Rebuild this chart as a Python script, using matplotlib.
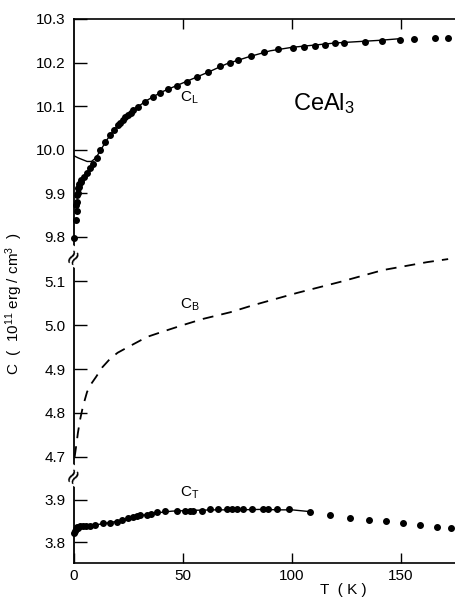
import matplotlib
matplotlib.use('Agg')
import matplotlib.pyplot as plt

plt.rcParams['font.family'] = ['Liberation Sans', 'DejaVu Sans']
plt.rcParams['mathtext.fontset'] = 'custom'
plt.rcParams['mathtext.rm'] = 'Liberation Sans'
plt.rcParams['mathtext.it'] = 'Liberation Sans:italic'

# C_L : punti misurati e curva
T_L = [0.2, 0.8, 0.9, 1.2, 1.4, 1.6, 1.8, 2.0, 2.2, 2.5, 3.0, 3.4, 4.5, 5.8, 7.3, 8.7,
       10.5, 11.9, 14.2, 16.5, 18.5, 20.2, 21.3, 22.5, 23.6, 24.8, 26.0, 27.0, 29.4,
       32.6, 36.2, 39.4, 43.1, 47.2, 51.8, 56.4, 61.5, 67.0, 71.6, 75.2, 81.2, 87.2,
       93.6, 100.5, 105.5, 110.6, 115.1, 119.7, 123.9, 133.5, 141.3, 149.5, 155.9,
       165.6, 171.6]
C_L = [9.797, 9.838, 9.872, 9.86, 9.88, 9.895, 9.90, 9.911, 9.915, 9.922, 9.925, 9.93,
       9.937, 9.946, 9.957, 9.967, 9.98, 9.999, 10.017, 10.033, 10.045, 10.056, 10.062,
       10.068, 10.074, 10.079, 10.085, 10.09, 10.098, 10.11, 10.12, 10.13, 10.139,
       10.146, 10.155, 10.167, 10.178, 10.192, 10.2, 10.206, 10.215, 10.224, 10.231,
       10.233, 10.236, 10.238, 10.24, 10.245, 10.245, 10.247, 10.25, 10.252, 10.254,
       10.256, 10.256]
T_L_fit = [0, 2, 4, 6, 8, 10, 12, 15, 18, 22, 27, 33, 40, 47, 55, 62, 70, 80, 90,
           100, 110, 120, 130, 140, 150]
C_L_fit = [9.986, 9.981, 9.977, 9.973, 9.973, 9.981, 9.997, 10.022, 10.043, 10.066,
           10.09, 10.112, 10.132, 10.147, 10.164, 10.179, 10.197, 10.213, 10.227,
           10.235, 10.240, 10.245, 10.248, 10.251, 10.255]

# C_B : curva tratteggiata
T_B = [0.3, 1.0, 1.8, 2.8, 4.1, 6.0, 8.0, 10.1, 13.0, 16.5, 20.0, 24.8, 33.5, 41.3,
       50.0, 59.2, 71.6, 82.1, 102.3, 122.0, 141.7, 161.9, 171.6]
C_B = [4.70, 4.725, 4.755, 4.785, 4.815, 4.848, 4.867, 4.882, 4.904, 4.923, 4.937,
       4.95, 4.973, 4.986, 5.0, 5.014, 5.029, 5.045, 5.073, 5.098, 5.125, 5.143, 5.15]

# C_T : punti misurati e curva
T_T = [0.2, 0.5, 1.0, 1.4, 2.0, 2.8, 4.0, 5.5, 7.5, 9.6, 13.3, 16.5, 19.7, 22.0, 24.8,
       27.0, 28.8, 30.3, 33.5, 35.5, 38.1, 41.7, 47.2, 50.9, 53.0, 54.6, 58.7, 62.4,
       66.1, 70.2, 72.5, 74.8, 77.5, 81.7, 86.7, 89.0, 93.1, 98.6, 108.3, 117.4, 126.6,
       135.3, 143.1, 150.9, 158.7, 166.5, 172.9]
C_T = [3.822, 3.826, 3.83, 3.835, 3.833, 3.837, 3.838, 3.837, 3.839, 3.84, 3.844, 3.846,
       3.847, 3.851, 3.858, 3.86, 3.862, 3.863, 3.865, 3.867, 3.87, 3.874, 3.874, 3.874,
       3.874, 3.874, 3.874, 3.879, 3.877, 3.877, 3.877, 3.877, 3.877, 3.877, 3.879,
       3.879, 3.877, 3.877, 3.872, 3.863, 3.856, 3.851, 3.849, 3.846, 3.84, 3.835, 3.833]
T_T_fit = [0, 3, 8, 15, 22, 30, 38, 45, 55, 65, 75, 85, 95, 100, 108]
C_T_fit = [3.83, 3.836, 3.839, 3.845, 3.851, 3.862, 3.869, 3.873, 3.875, 3.876, 3.876,
           3.877, 3.876, 3.876, 3.872]

ticks_top = [9.8, 9.9, 10.0, 10.1, 10.2, 10.3]
ticks_mid = [4.7, 4.8, 4.9, 5.0, 5.1]
ticks_bot = [3.8, 3.9]
ticks_x = [0, 50, 100, 150]

fig = plt.figure(figsize=(4.56, 6.0), dpi=100)
W, H = 456.0, 600.0
left = 74 / W

def box(y0, y1):
    return [left, 1 - y1 / H, 1 - left, (y1 - y0) / H]

ax1 = fig.add_axes(box(19, 256))
ax2 = fig.add_axes(box(256, 475))
ax3 = fig.add_axes(box(475, 563))

ax1.set_ylim(9.756, 10.3)
ax2.set_ylim(4.659, 5.157)
ax3.set_ylim(3.751, 3.958)

for ax in (ax1, ax2, ax3):
    ax.set_xlim(0, 175.2)
    ax.spines['right'].set_visible(False)
    ax.tick_params(direction='in', length=9, width=1, labelsize=11, pad=6)
    ax.spines['left'].set_linewidth(1.3)

ax1.spines['bottom'].set_visible(False)
ax2.spines['top'].set_visible(False)
ax2.spines['bottom'].set_visible(False)
ax3.spines['top'].set_visible(False)
ax1.spines['top'].set_linewidth(1.2)
ax3.spines['bottom'].set_linewidth(1.2)

ax1.set_yticks(ticks_top)
ax1.set_yticklabels(['9.8', '9.9', '10.0', '10.1', '10.2', '10.3'])
ax2.set_yticks(ticks_mid)
ax2.set_yticklabels(['4.7', '4.8', '4.9', '5.0', '5.1'])
ax3.set_yticks(ticks_bot)
ax3.set_yticklabels(['3.8', '3.9'])

ax1.set_xticks([50, 100, 150])
ax1.tick_params(axis='x', top=True, bottom=False, labeltop=False, labelbottom=False,
                length=7)
ax2.set_xticks([])
ax3.set_xticks(ticks_x)
ax3.tick_params(axis='x', length=7, pad=4)

# dati
ax1.plot(T_L_fit, C_L_fit, color='black', lw=1.0)
ax1.plot(T_L, C_L, 'o', color='black', ms=4, clip_on=False)
ax2.plot(T_B, C_B, color='black', lw=1.3, dashes=(6, 4.5))
ax3.plot(T_T_fit, C_T_fit, color='black', lw=1.0)
ax3.plot(T_T, C_T, 'o', color='black', ms=4, clip_on=False)

# etichette
ax1.text(53, 10.12, r'C$_\mathregular{L}$', fontsize=11, ha='center', va='center')
ax1.text(114.7, 10.107, r'CeAl$_\mathregular{3}$', fontsize=17, ha='center', va='center')
ax2.text(53, 5.045, r'C$_\mathregular{B}$', fontsize=11, ha='center', va='center')
ax3.text(53, 3.916, r'C$_\mathregular{T}$', fontsize=11, ha='center', va='center')

fig.text(14 / W, 1 - 304 / H,
         r'C  (  10$^\mathregular{11}$ erg / cm$^\mathregular{3}$  )',
         rotation=90, ha='center', va='center', fontsize=11)
fig.text(343 / W, 1 - 590 / H, 'T  ( K )', ha='center', va='center', fontsize=11)

# segni di interruzione dell'asse
for yb in (256, 475):
    fig.text(left - 1 / W, 1 - yb / H, '≈', ha='center', va='center', fontsize=15,
             rotation=60, family=['DejaVu Sans'],
             bbox=dict(facecolor='white', edgecolor='none', pad=0.5))

plt.savefig('out.png', dpi=100)
